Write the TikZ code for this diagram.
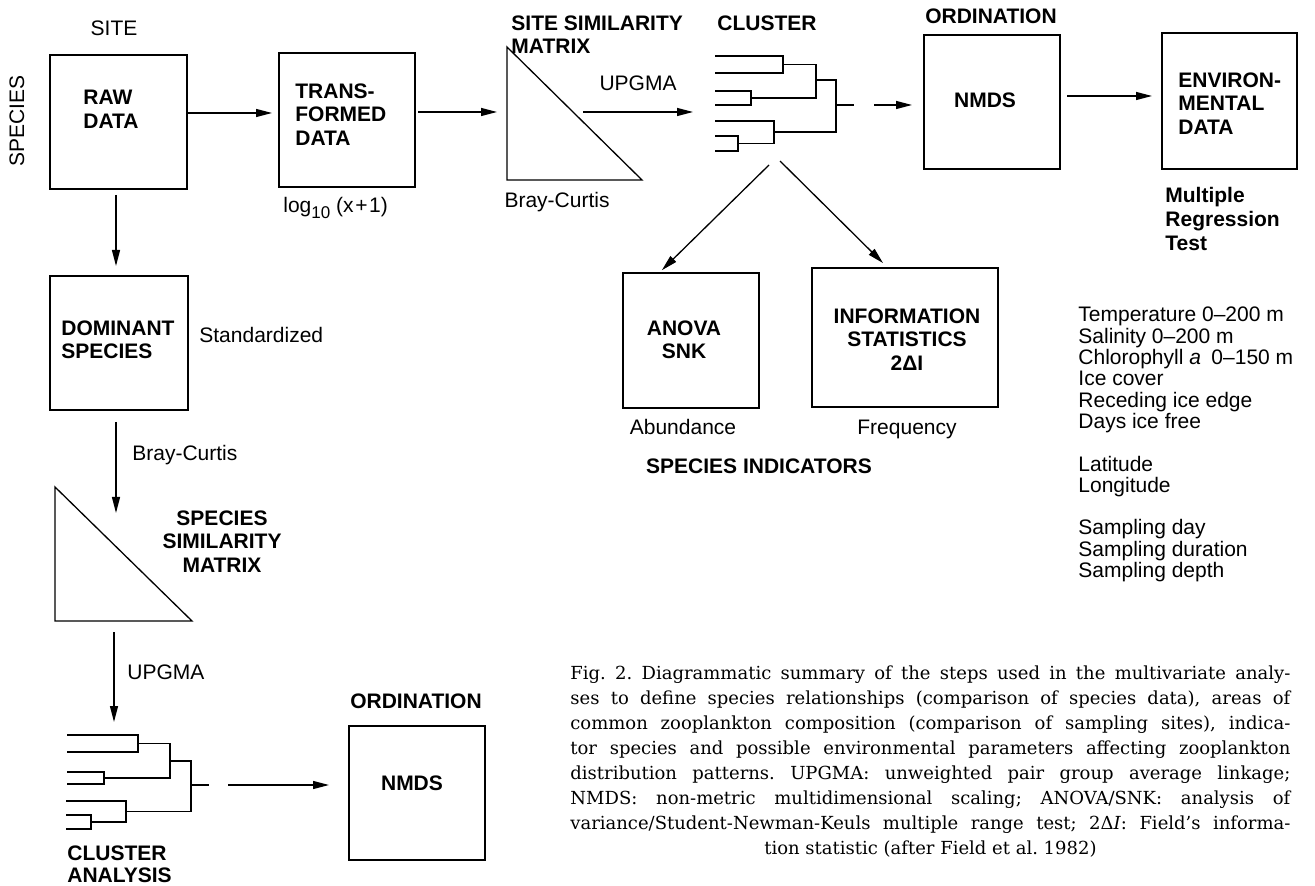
\documentclass[tikz,border=0pt]{standalone}
\usepackage{fontspec}
\setmainfont{Liberation Sans}
\setsansfont{Liberation Sans}
\newfontfamily\capfont{DejaVu Serif}
\usetikzlibrary{arrows.meta}
\begin{document}
\begin{tikzpicture}[x=0.5pt,y=-0.5pt,
  box/.style={draw, line width=0.7pt, inner sep=0pt, outer sep=0pt},
  holder/.style={inner sep=0pt, outer sep=0pt},
  tri/.style={line width=0.65pt, line join=miter},
  dend/.style={line width=0.75pt, line cap=rect},
  arr/.style={line width=0.65pt, -{Triangle[length=8pt,width=4pt]}},
  lab/.style={inner sep=0pt, align=left, font=\fontsize{10.5}{11.75}\selectfont\bfseries},
  labc/.style={lab, align=center},
  txt/.style={inner sep=0pt, font=\fontsize{10.5}{12.6}\selectfont}]
\useasboundingbox (0,0) rectangle (1315,886);

% ---------- boxes ----------
\node[box, minimum width=68.5pt, minimum height=67pt] (raw) at (118.5,122) {};
\node[box, minimum width=68pt, minimum height=67pt] (trans) at (347,120) {};
\node[box, minimum width=68pt, minimum height=67pt] (nmds) at (992,102) {};
\node[box, minimum width=67.5pt, minimum height=68pt] (env) at (1229.5,101) {};
\node[box, minimum width=68pt, minimum height=67.5pt] (anova) at (691,340.5) {};
\node[box, minimum width=93pt, minimum height=69.5pt] (info) at (905,337.5) {};
\node[box, minimum width=69pt, minimum height=67pt] (dom) at (119,343) {};
\node[box, minimum width=68pt, minimum height=67pt] (nmds2) at (417,793) {};

% ---------- triangles (similarity matrices) ----------
\node[holder, minimum width=67.5pt, minimum height=66.5pt] (ssm) at (574.5,113.5) {};
\draw[tri] (ssm.north west) -- (ssm.south west) -- (ssm.south east) -- cycle;
\node[holder, minimum width=68.5pt, minimum height=67pt] (ssm2) at (123.5,554) {};
\draw[tri] (ssm2.north west) -- (ssm2.south west) -- (ssm2.south east) -- cycle;

% ---------- dendrogram (site cluster) ----------
\node[holder, minimum width=68.5pt, minimum height=47.5pt] (clu) at (784.5,103.5) {};
\draw[dend] (716,56) -- (783,56) -- (783,73) -- (716,73);
\draw[dend] (716,91) -- (751,91) -- (751,105) -- (716,105);
\draw[dend] (783,64.5) -- (816,64.5) -- (816,98) -- (751,98);
\draw[dend] (716,136) -- (738,136) -- (738,151) -- (716,151);
\draw[dend] (716,121) -- (774,121) -- (774,143.5) -- (738,143.5);
\draw[dend] (816,80) -- (836,80) -- (836,132) -- (774,132);
\draw[dend] (836,105) -- (853,105);
\coordinate (croot) at (874,105);

% ---------- dendrogram (species cluster) ----------
\node[holder, minimum width=70.5pt, minimum height=47pt] (clu2) at (137.5,782) {};
\draw[dend] (68,735) -- (138,735) -- (138,752) -- (68,752);
\draw[dend] (68,772) -- (104,772) -- (104,784) -- (68,784);
\draw[dend] (138,743.5) -- (170,743.5) -- (170,778) -- (104,778);
\draw[dend] (67,815) -- (91,815) -- (91,829) -- (67,829);
\draw[dend] (67,801) -- (126,801) -- (126,822) -- (91,822);
\draw[dend] (170,761) -- (191,761) -- (191,811.5) -- (126,811.5);
\draw[dend] (191,785) -- (208,785);
\coordinate (croot2) at (228,785);

% ---------- free connector ends ----------
\coordinate (u1) at (583,112);
\coordinate (c1) at (769,165);
\coordinate (c2) at (780,161);
\coordinate (d2) at (116,513);

% ---------- connectors ----------
\draw[arr, shorten >=3.5pt] (raw.east |- 0,113) -- (trans.west |- 0,113);
\draw[arr, shorten <=1.5pt, shorten >=5pt] (trans.east |- 0,112) -- (ssm.west |- 0,112);
\draw[arr, shorten >=11.5pt] (u1) -- (clu.west |- u1);
\draw[arr, shorten >=6pt] (croot) -- (nmds.west |- croot);
\draw[arr, shorten <=3.5pt, shorten >=5pt] (nmds.east |- 0,96) -- (env.west |- 0,96);
\draw[arr, shorten >=2pt] (c1) -- ([xshift=-16pt]anova.north);
\draw[arr, shorten >=3.5pt] (c2) -- ([xshift=-8.5pt]info.north);
\draw[arr, shorten <=3pt, shorten >=5pt] (raw.south -| 116,0) -- (dom.north -| 116,0);
\draw[arr, shorten <=6pt] (dom.south -| 116,0) -- (d2);
\draw[arr, shorten <=5.5pt, shorten >=6.5pt] (ssm2.south -| 114,0) -- (clu2.north -| 114,0);
\draw[arr, shorten >=10pt] (croot2) -- (nmds2.west |- croot2);

% ---------- bold labels ----------
\node[lab, anchor=north west] (tRaw) at (83,90) {RAW\\DATA};
\node[lab, anchor=north west] (tTrans) at (295,83) {TRANS-\\FORMED\\DATA};
\node[lab, anchor=north west] (tSsm) at (511,15) {SITE SIMILARITY\\MATRIX};
\node[lab, anchor=north] (tClu) at (767,15) {CLUSTER};
\node[lab, anchor=north] (tOrd) at (991,8) {ORDINATION};
\node[lab, anchor=center] (tNmds) at (985,100) {NMDS};
\node[lab, anchor=north west] (tEnv) at (1178,72) {ENVIRON-\\MENTAL\\DATA};
\node[lab, anchor=north west, font=\fontsize{10.5}{12}\selectfont\bfseries] (tMrt) at (1165,187) {Multiple\\Regression\\Test};
\node[labc, anchor=north] (tAnova) at (684,320) {ANOVA\\SNK};
\node[labc, anchor=north] (tInfo) at (907,308) {INFORMATION\\STATISTICS\\2ΔI};
\node[lab, anchor=center] (tInd) at (759,466) {SPECIES INDICATORS};
\node[lab, anchor=north west] (tDom) at (61,320) {DOMINANT\\SPECIES};
\node[labc, anchor=north] (tSsm2) at (222,510) {SPECIES\\SIMILARITY\\MATRIX};
\node[lab, anchor=north west, font=\fontsize{10.5}{11}\selectfont\bfseries] (tClu2) at (67,845) {CLUSTER\\ANALYSIS};
\node[lab, anchor=north] (tOrd2) at (416,693) {ORDINATION};
\node[lab, anchor=center] (tNmds2) at (412,783) {NMDS};

% ---------- plain labels ----------
\node[txt, anchor=center] (tSite) at (114,28.5) {SITE};
\node[txt, anchor=center, rotate=90] (tSpecies) at (17,121) {SPECIES};
\node[txt, anchor=base west] (tLog) at (283,213) {log\raisebox{-2.6pt}{\fontsize{8.5}{9}\selectfont 10} (x{\kern0.8pt}+{\kern0.8pt}1)};
\node[txt, anchor=base] (tBc) at (557,208) {Bray-Curtis};
\node[txt, anchor=base] (tUp) at (638,91) {UPGMA};
\node[txt, anchor=base west] (tStd) at (199,343) {Standardized};
\node[txt, anchor=base west] (tBc2) at (132,461) {Bray-Curtis};
\node[txt, anchor=base west] (tUp2) at (127,679) {UPGMA};
\node[txt, anchor=base] (tAbu) at (683,435) {Abundance};
\node[txt, anchor=base] (tFreq) at (907,435) {Frequency};

% ---------- environmental variables ----------
\node[inner sep=0pt, anchor=base west] (tVars) at (1078,322) {\begin{minipage}[t]{125pt}\raggedright
\fontsize{10.5}{10.65}\selectfont
Temperature 0\textendash200 m\\
Salinity 0\textendash200 m\\
Chlorophyll \textit{a}\enspace 0\textendash150 m\\
Ice cover\\
Receding ice edge\\
Days ice free\\[10.65pt]
Latitude\\
Longitude\\[10.65pt]
Sampling day\\
Sampling duration\\
Sampling depth
\end{minipage}};

% ---------- caption ----------
\node[inner sep=0pt, anchor=base west] (cap) at (570,679) {\begin{minipage}[t]{360pt}
\capfont\fontsize{9}{12.5}\selectfont\frenchspacing
\hbox to\linewidth{Fig. 2. Diagrammatic summary of the steps used in the multivariate analy-}
\hbox to\linewidth{ses to define species relationships (comparison of species data), areas of}
\hbox to\linewidth{common zooplankton composition (comparison of sampling sites), indica-}
\hbox to\linewidth{tor species and possible environmental parameters affecting zooplankton}
\hbox to\linewidth{distribution patterns. UPGMA: unweighted pair group average linkage;}
\hbox to\linewidth{NMDS: non-metric multidimensional scaling; ANOVA/SNK: analysis of}
\hbox to\linewidth{variance/Student-Newman-Keuls multiple range test; 2Δ\textit{I}: Field’s informa-}
\hbox to\linewidth{\hfil tion statistic (after Field et al. 1982)\hfil}
\end{minipage}};
\end{tikzpicture}
\end{document}
